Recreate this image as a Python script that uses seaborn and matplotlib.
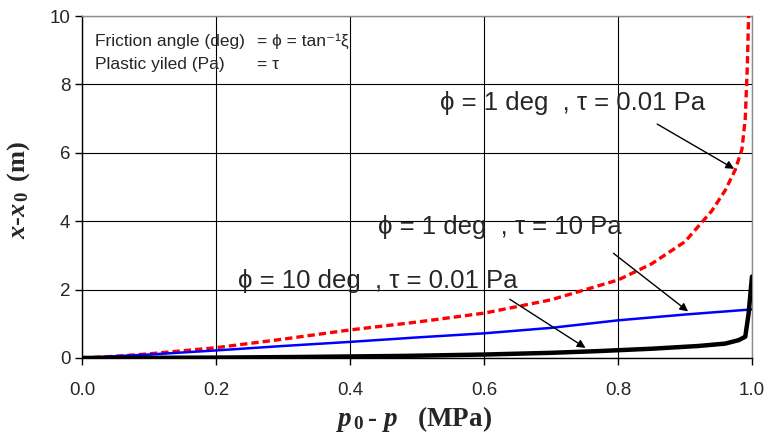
import numpy as np
import pandas as pd
import matplotlib
matplotlib.use('Agg')
import matplotlib.pyplot as plt
import seaborn as sns

# data
x_red = [0, 0.05, 0.1, 0.2, 0.3, 0.4, 0.5, 0.6, 0.7, 0.8, 0.85, 0.9, 0.94,
         0.96, 0.975, 0.985, 0.99, 0.993, 0.995]
y_red = [0, 0.05, 0.12, 0.3, 0.55, 0.82, 1.05, 1.31, 1.7, 2.28, 2.75, 3.4,
         4.3, 4.9, 5.5, 6.1, 7.0, 8.5, 10.0]

x_blue = [0, 0.1, 0.2, 0.3, 0.4, 0.5, 0.6, 0.7, 0.8, 0.9, 1.0]
y_blue = [0, 0.1, 0.22, 0.35, 0.47, 0.6, 0.72, 0.88, 1.1, 1.27, 1.42]

x_black = [0, 0.2, 0.33, 0.48, 0.6, 0.7, 0.77, 0.85, 0.92, 0.96, 0.98,
           0.99, 0.995, 1.0]
y_black = [0, 0.01, 0.03, 0.06, 0.1, 0.15, 0.2, 0.27, 0.35, 0.42, 0.52,
           0.62, 1.3, 2.38]

x_ticks = [0.0, 0.2, 0.4, 0.6, 0.8, 1.0]
x_tick_labels = ['0.0', '0.2', '0.4', '0.6', '0.8', '1.0']
y_ticks = [0, 2, 4, 6, 8, 10]

labels = ['ϕ = 1 deg  , τ = 0.01 Pa',
          'ϕ = 1 deg  , τ = 10 Pa',
          'ϕ = 10 deg  , τ = 0.01 Pa']

sns.set_style('white')
plt.rcParams['font.family'] = ['Liberation Sans', 'DejaVu Sans']
plt.rcParams['mathtext.fontset'] = 'custom'
plt.rcParams['mathtext.rm'] = 'Liberation Serif:bold'
plt.rcParams['mathtext.it'] = 'Liberation Serif:italic:bold'
plt.rcParams['mathtext.bf'] = 'Liberation Serif:bold'

fig = plt.figure(figsize=(7.67, 4.36), dpi=100)
ax = fig.add_axes([0.107, 0.179, 0.8734, 0.7843])

sns.lineplot(x=x_red, y=y_red, ax=ax, color='#ff0000', lw=2.4,
             linestyle=(0, (2.2, 1.2)), zorder=3)
sns.lineplot(x=x_blue, y=y_blue, ax=ax, color='#0000ff', lw=1.8, zorder=3)
sns.lineplot(x=x_black, y=y_black, ax=ax, color='black', lw=3.2, zorder=3)

ax.set_xlim(0, 1)
ax.set_ylim(0, 10)
ax.set_xticks(x_ticks)
ax.set_xticklabels(x_tick_labels)
ax.set_yticks(y_ticks)
ax.grid(True, color='black', lw=0.8)
ax.set_axisbelow(True)
ax.tick_params(direction='out', length=5, width=1, color='black',
               labelsize=13.5, bottom=True, left=True)
ax.tick_params(axis='x', pad=12)
ax.tick_params(axis='y', pad=3.5)

for side in ['top', 'right']:
    ax.spines[side].set_color('#8c8c8c')
    ax.spines[side].set_linewidth(1)
for side in ['left', 'bottom']:
    ax.spines[side].set_color('black')
    ax.spines[side].set_linewidth(1)

ax.set_xlabel(r'$p_{\,\mathrm{0}}\,$- $p$   (MPa)', family='Liberation Serif',
              weight='bold', fontsize=19.5)
ax.set_ylabel(r'$x$-$x_{\,\mathrm{0}}\,$ (m)', family='Liberation Serif',
              weight='bold', fontsize=19)
ax.xaxis.set_label_coords(0.496, -0.135)
ax.yaxis.set_label_coords(-0.075, 0.49)

# definitions box
fs_small = 12.5
ax.text(0.019, 0.925, 'Friction angle (deg)', transform=ax.transAxes,
        fontsize=fs_small, va='center')
ax.text(0.261, 0.925, '= ϕ = tan⁻¹ξ', transform=ax.transAxes,
        fontsize=fs_small, va='center')
ax.text(0.019, 0.857, 'Plastic yiled (Pa)', transform=ax.transAxes,
        fontsize=fs_small, va='center')
ax.text(0.261, 0.857, '= τ', transform=ax.transAxes,
        fontsize=fs_small, va='center')

# curve labels and arrows
ax.text(0.534, 7.46, labels[0], fontsize=18.5, va='center')
ax.text(0.442, 3.84, labels[1], fontsize=18.5, va='center')
ax.text(0.233, 2.25, labels[2], fontsize=18.5, va='center')

arrow = dict(arrowstyle='-|>', color='black', lw=1, mutation_scale=12)
ax.annotate('', xy=(0.977, 5.49), xytext=(0.855, 6.88), arrowprops=arrow)
ax.annotate('', xy=(0.908, 1.31), xytext=(0.79, 3.11), arrowprops=arrow)
ax.annotate('', xy=(0.755, 0.25), xytext=(0.635, 1.76), arrowprops=arrow)

fig.savefig('out.png', dpi=100)
